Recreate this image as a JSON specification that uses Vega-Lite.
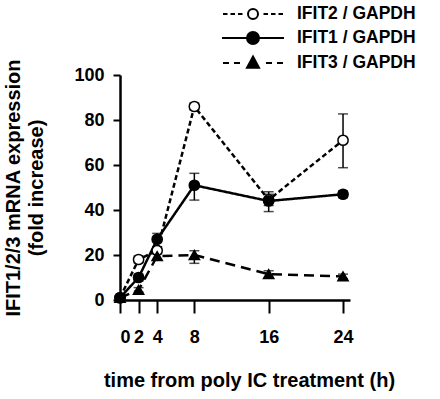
{
  "$schema": "https://vega.github.io/schema/vega-lite/v6.json",
  "width": 230,
  "height": 225,
  "autosize": "none",
  "padding": {"left": 120, "top": 75, "right": 90, "bottom": 99},
  "background": "white",
  "config": {
    "view": {"stroke": null},
    "font": "Liberation Sans",
    "axis": {
      "grid": false,
      "domainColor": "black",
      "domainWidth": 2.5,
      "tickColor": "black",
      "tickWidth": 2,
      "labelFont": "Liberation Sans",
      "labelFontWeight": "bold",
      "labelFontSize": 18,
      "labelColor": "black",
      "titleFont": "Liberation Sans",
      "titleFontWeight": "bold",
      "titleFontSize": 20,
      "titleColor": "black"
    },
    "legend": {
      "labelFont": "Liberation Sans",
      "labelFontWeight": "bold",
      "labelFontSize": 17.5,
      "labelColor": "black"
    }
  },
  "data": {
    "values": [
      {"series": "IFIT2 / GAPDH", "t": 0, "v": 1, "lo": null, "hi": null},
      {"series": "IFIT2 / GAPDH", "t": 2, "v": 18, "lo": 16.5, "hi": 19.5},
      {"series": "IFIT2 / GAPDH", "t": 4, "v": 22, "lo": 20.5, "hi": 23.5},
      {"series": "IFIT2 / GAPDH", "t": 8, "v": 86, "lo": 84.5, "hi": 87.5},
      {"series": "IFIT2 / GAPDH", "t": 16, "v": 44.5, "lo": 42, "hi": 47},
      {"series": "IFIT2 / GAPDH", "t": 24, "v": 71, "lo": 58.8, "hi": 82.7},
      {"series": "IFIT1 / GAPDH", "t": 0, "v": 1, "lo": null, "hi": null},
      {"series": "IFIT1 / GAPDH", "t": 2, "v": 10, "lo": 8.5, "hi": 11.5},
      {"series": "IFIT1 / GAPDH", "t": 4, "v": 27, "lo": 23.7, "hi": 29.6},
      {"series": "IFIT1 / GAPDH", "t": 8, "v": 51, "lo": 44.4, "hi": 56.3},
      {"series": "IFIT1 / GAPDH", "t": 16, "v": 44, "lo": 39.3, "hi": 48.1},
      {"series": "IFIT1 / GAPDH", "t": 24, "v": 47, "lo": 45.5, "hi": 48.5},
      {"series": "IFIT3 / GAPDH", "t": 0, "v": 1, "lo": null, "hi": null},
      {"series": "IFIT3 / GAPDH", "t": 2, "v": 4.5, "lo": 3.5, "hi": 5.5},
      {"series": "IFIT3 / GAPDH", "t": 4, "v": 19.5, "lo": 18, "hi": 21},
      {"series": "IFIT3 / GAPDH", "t": 8, "v": 20, "lo": 16.3, "hi": 21.9},
      {"series": "IFIT3 / GAPDH", "t": 16, "v": 11.5, "lo": 10, "hi": 13},
      {"series": "IFIT3 / GAPDH", "t": 24, "v": 10.5, "lo": 9.5, "hi": 11.5}
    ]
  },
  "encoding": {
    "x": {
      "field": "t", "type": "quantitative",
      "scale": {"domain": [0, 24.75], "nice": false, "zero": false},
      "axis": {
        "values": [0, 2, 4, 8, 16, 24],
        "tickSize": 13,
        "labelPadding": 15,
        "title": "time from poly IC treatment (h)",
        "titlePadding": 24,
        "titleX": 129,
        "titleAlign": "center"
      }
    },
    "y": {
      "field": "v", "type": "quantitative",
      "scale": {"domain": [0, 100], "nice": false},
      "axis": {
        "values": [0, 20, 40, 60, 80, 100],
        "tickSize": 7,
        "labelPadding": 9,
        "title": ["IFIT1/2/3 mRNA expression", "(fold increase)"],
        "titleLineHeight": 23,
        "titlePadding": 27
      }
    }
  },
  "layer": [
    {
      "mark": {"type": "line", "color": "black", "strokeWidth": 2.5},
      "encoding": {
        "detail": {"field": "series"},
        "strokeDash": {
          "field": "series", "type": "nominal", "legend": null,
          "scale": {
            "domain": ["IFIT2 / GAPDH", "IFIT1 / GAPDH", "IFIT3 / GAPDH"],
            "range": [[5, 3], [1, 0], [10, 6]]
          }
        }
      }
    },
    {
      "transform": [{"filter": "isValid(datum.lo)"}],
      "mark": {"type": "errorbar", "color": "black", "thickness": 1.5, "ticks": {"size": 10}},
      "encoding": {
        "y": {"field": "lo", "type": "quantitative"},
        "y2": {"field": "hi"}
      }
    },
    {
      "mark": {"type": "point", "opacity": 1, "stroke": "black", "strokeWidth": 1.5, "size": 105},
      "encoding": {
        "shape": {
          "field": "series", "type": "nominal", "legend": null,
          "scale": {
            "domain": ["IFIT2 / GAPDH", "IFIT1 / GAPDH", "IFIT3 / GAPDH"],
            "range": ["circle", "circle", "triangle-up"]
          }
        },
        "fill": {
          "field": "series", "type": "nominal", "legend": null,
          "scale": {
            "domain": ["IFIT2 / GAPDH", "IFIT1 / GAPDH", "IFIT3 / GAPDH"],
            "range": ["white", "black", "black"]
          }
        }
      }
    },
    {
      "mark": {"type": "point", "opacity": 0, "strokeWidth": 2},
      "encoding": {
        "shape": {
          "field": "series", "type": "nominal",
          "scale": {
            "domain": ["IFIT2 / GAPDH", "IFIT1 / GAPDH", "IFIT3 / GAPDH"],
            "range": [
              "M-3,0L-2.55,0M-2.25,0L-1.8,0M-1.5,0L-1.05,0M1.05,0L1.5,0M1.8,0L2.25,0M2.55,0L3,0M0.5,0A0.5,0.5,0,1,1,-0.5,0A0.5,0.5,0,1,1,0.5,0Z",
              "M-3.1,0L3.1,0M0.6,0A0.6,0.6,0,1,1,-0.6,0A0.6,0.6,0,1,1,0.6,0Z",
              "M-3,0L-2.4,0M-1.9,0L-1.3,0M1.3,0L1.9,0M2.4,0L3,0M0,-0.65L0.6,0.47L-0.6,0.47Z"
            ]
          },
          "legend": {
            "title": null,
            "orient": "none",
            "legendX": 122,
            "legendY": -72,
            "padding": 0,
            "symbolSize": 400,
            "symbolStrokeWidth": 2,
            "symbolStrokeColor": "black",
            "symbolOpacity": 1,
            "labelOffset": 33,
            "rowPadding": 4,
            "encode": {
              "symbols": {
                "update": {
                  "stroke": {"value": "black"},
                  "strokeWidth": {"value": 2},
                  "opacity": {"value": 1},
                  "strokeOpacity": {"value": 1}
                }
              }
            }
          }
        },
        "fill": {
          "field": "series", "type": "nominal",
          "scale": {
            "domain": ["IFIT2 / GAPDH", "IFIT1 / GAPDH", "IFIT3 / GAPDH"],
            "range": ["white", "black", "black"]
          }
        },
        "stroke": {
          "field": "series", "type": "nominal",
          "scale": {
            "domain": ["IFIT2 / GAPDH", "IFIT1 / GAPDH", "IFIT3 / GAPDH"],
            "range": ["black", "black", "black"]
          }
        }
      }
    }
  ],
  "resolve": {"scale": {"shape": "independent", "fill": "independent", "stroke": "independent"}}
}
